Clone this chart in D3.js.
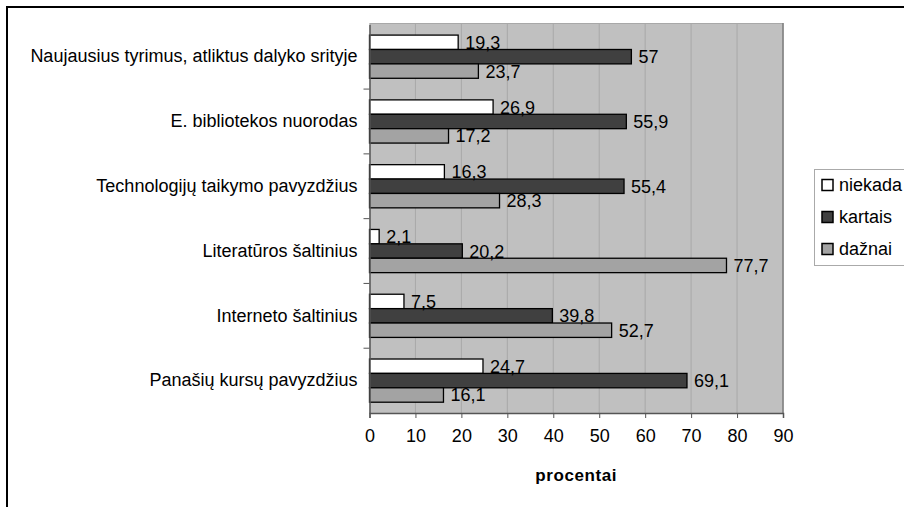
<!DOCTYPE html>
<html><head><meta charset="utf-8">
<script src="https://cdn.jsdelivr.net/npm/d3@7"></script>
<style>body{margin:0;background:#fff}svg{display:block;font-family:Arial,"Liberation Sans",sans-serif}</style>
</head><body>
<svg id="chart" width="904" height="507"></svg>
<script>
const categories = ["Naujausius tyrimus, atliktus dalyko srityje","E. bibliotekos nuorodas","Technologijų taikymo pavyzdžius","Literatūros šaltinius","Interneto šaltinius","Panašių kursų pavyzdžius"];
const seriesNames = ["niekada","kartais","dažnai"];
const niekada = [19.3,26.9,16.3,2.1,7.5,24.7];
const kartais = [57,55.9,55.4,20.2,39.8,69.1];
const daznai = [23.7,17.2,28.3,77.7,52.7,16.1];
const xTicks = [0,10,20,30,40,50,60,70,80,90];
const axisTitle = "procentai";

const seriesValues = [niekada,kartais,daznai];
const colors = ["#ffffff","#404040","#a3a3a3"];
const svg = d3.select("#chart");
const L=369.5, R=783, T=23, B=413;

// outer frame
svg.append("rect").attr("x",7).attr("y",7).attr("width",1000).attr("height",1000)
  .attr("fill","none").attr("stroke","#000").attr("stroke-width",2);

const x = d3.scaleLinear().domain([0,90]).range([L,R]);
const y = d3.scaleBand().domain(categories).range([24.3,B]).padding(0);
const ys = d3.scaleBand().domain(seriesNames).range([0,y.bandwidth()]).paddingInner(0).paddingOuter(0.75);

svg.append("rect").attr("x",L).attr("y",T).attr("width",R-L).attr("height",B-T).attr("fill","#c0c0c0");
// gridlines
svg.append("g").selectAll("line").data(xTicks.slice(1)).join("line")
  .attr("x1",d=>x(d)).attr("x2",d=>x(d)).attr("y1",T).attr("y2",B)
  .attr("stroke","#a8a8a8").attr("stroke-width",1);
// plot border
svg.append("line").attr("x1",L).attr("x2",R).attr("y1",T+0.5).attr("y2",T+0.5).attr("stroke","#a8a8a8");
svg.append("line").attr("x1",R).attr("x2",R).attr("y1",T).attr("y2",B).attr("stroke","#808080").attr("stroke-width",1.5);

// bars
const rows = [];
categories.forEach((c,i)=>seriesNames.forEach((s,j)=>rows.push({c,s,j,v:seriesValues[j][i]})));
const g = svg.append("g");
g.selectAll("rect").data(rows).join("rect")
  .attr("x",x(0)).attr("y",d=>y(d.c)+ys(d.s))
  .attr("width",d=>x(d.v)-x(0)).attr("height",ys.bandwidth())
  .attr("fill",d=>colors[d.j]).attr("stroke","#000").attr("stroke-width",1.3);
g.selectAll("text").data(rows).join("text")
  .attr("x",d=>x(d.v)+7).attr("y",d=>y(d.c)+ys(d.s)+ys.bandwidth()/2)
  .attr("dy","0.36em").attr("font-size",18).attr("fill","#000")
  .text(d=>String(d.v).replace(".",","));

// y axis
const yAxis = d3.axisLeft(y).tickSize(0).tickFormat(d=>d).tickPadding(12);
const ya = svg.append("g").attr("transform",`translate(${L},0)`).call(yAxis);
ya.select(".domain").attr("stroke","#555").attr("stroke-width",1.5);
ya.selectAll("text").attr("font-size",18).attr("fill","#000").attr("font-family","Arial,'Liberation Sans',sans-serif");
// y ticks at band boundaries
svg.append("g").selectAll("line").data(categories.slice(1)).join("line")
  .attr("x1",L-6).attr("x2",L).attr("y1",d=>y(d)).attr("y2",d=>y(d)).attr("stroke","#555");

// x axis
const xAxis = d3.axisBottom(x).tickValues(xTicks).tickSize(5).tickPadding(11);
const xa = svg.append("g").attr("transform",`translate(0,${B})`).call(xAxis);
xa.select(".domain").attr("stroke","#555").attr("stroke-width",1.5);
xa.selectAll(".tick line").attr("stroke","#555");
xa.selectAll("text").attr("font-size",18).attr("fill","#000").attr("font-family","Arial,'Liberation Sans',sans-serif");

svg.append("text").attr("x",(L+R)/2).attr("y",481).attr("text-anchor","middle")
  .attr("font-size",17).attr("font-weight","bold").attr("letter-spacing","0.6").text(axisTitle);

// legend
const lg = svg.append("g");
lg.append("rect").attr("x",814.5).attr("y",169.5).attr("width",200).attr("height",96)
  .attr("fill","#fff").attr("stroke","#aaa");
const li = lg.selectAll("g").data(seriesNames).join("g")
  .attr("transform",(d,i)=>`translate(822,${185+i*32})`);
li.append("rect").attr("x",0).attr("y",-5.5).attr("width",11).attr("height",11)
  .attr("fill",(d,i)=>colors[i]).attr("stroke","#000").attr("stroke-width",1.5);
li.append("text").attr("x",17).attr("y",0).attr("dy","0.36em").attr("font-size",18).text(d=>d);
</script>
</body></html>
